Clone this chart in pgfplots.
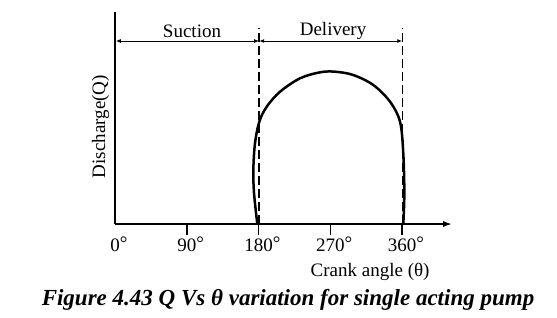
\documentclass[border=0pt]{standalone}
\usepackage{fontspec}
\setmainfont{Liberation Serif}
\usepackage{pgfplots}
\pgfplotsset{compat=1.18}
\usetikzlibrary{arrows.meta}
\newcommand{\dg}[1]{\mbox{#1\rlap{\raisebox{1.5bp}{°}}}}
\begin{document}
\begin{tikzpicture}
\begin{axis}[
  x=0.7972bp, y=1bp,
  xmin=0, xmax=423, ymin=0, ymax=212,
  axis x line=bottom, axis y line=left,
  x axis line style={line width=1.9bp, -{Latex[length=9bp,width=6bp]}},
  y axis line style={line width=1.9bp, -},
  clip=false,
  ytick=\empty,
  xtick={0,90,180,270,360},
  xticklabels={\dg{0},\dg{90},\dg{180},\dg{270},\dg{360}},
  xtick align=outside, major tick length=10bp,
  xtick style={draw=none},
  xticklabel style={font=\fontsize{19bp}{19bp}\selectfont, anchor=north, inner sep=0pt, yshift=-3bp},
  xlabel={Crank angle (θ)},
  xlabel style={at={(axis cs:320,-52)}, anchor=base, font=\fontsize{19bp}{22bp}\selectfont},
  ylabel={Discharge(Q)},
  ylabel style={at={(axis cs:-18,97.5)}, anchor=center, font=\fontsize{19bp}{22bp}\selectfont},
]
% tick marks below the axis (as rules)
\node[anchor=north, inner sep=0pt] at (axis cs:90,0) {\rule{1.5bp}{11bp}};
\node[anchor=north, inner sep=0pt] at (axis cs:180,0) {\rule{1.5bp}{11bp}};
\node[anchor=north, inner sep=0pt] at (axis cs:270,0) {\rule{1.5bp}{11bp}};
\node[anchor=north, inner sep=0pt] at (axis cs:360,0) {\rule{1.5bp}{11bp}};
% discharge curve
\addplot[line width=2.5bp, smooth, tension=0.55] coordinates {
  (178.5,0) (174.4,30.7) (173.5,54) (175.6,80.7) (181.0,102.3)
  (190.3,117.3) (207.0,132.3) (232.1,145.7) (257.2,151.7) (276.0,152.3)
  (298.9,149) (324.0,139) (345.0,122.3) (357.5,102.3) (361.6,70.7)
  (362.9,30.7) (361.6,0)
};
% dashed boundaries
\addplot[line width=1.3bp, dash pattern=on 9bp off 4bp] coordinates {(180.8,0) (180.8,196)};
\addplot[line width=1.3bp, dash pattern=on 9bp off 4bp] coordinates {(360.4,0) (360.4,196)};
% stroke arrows
\addplot[line width=1bp, {Latex[length=5bp,width=4bp]}-{Latex[length=5bp,width=4bp]}] coordinates {(1,183) (180.8,183)};
\addplot[line width=1bp, {Latex[length=5bp,width=4bp]}-{Latex[length=5bp,width=4bp]}] coordinates {(180.8,183) (360.4,183)};
\node[anchor=base, font=\fontsize{19bp}{22bp}\selectfont] at (axis cs:96.6,186.5) {Suction};
\node[anchor=base, font=\fontsize{19bp}{22bp}\selectfont] at (axis cs:273.5,188.5) {Delivery};
\node[anchor=base, font=\bfseries\itshape\fontsize{23bp}{26bp}\selectfont] at (axis cs:217,-81) {Figure 4.43 Q Vs θ variation for single acting pump};
\coordinate (bbl) at (axis cs:-144.25,-93);
\coordinate (btr) at (axis cs:554.4,224);
\end{axis}
\pgfresetboundingbox
\path[use as bounding box] (bbl) rectangle (btr);
\end{tikzpicture}
\end{document}
